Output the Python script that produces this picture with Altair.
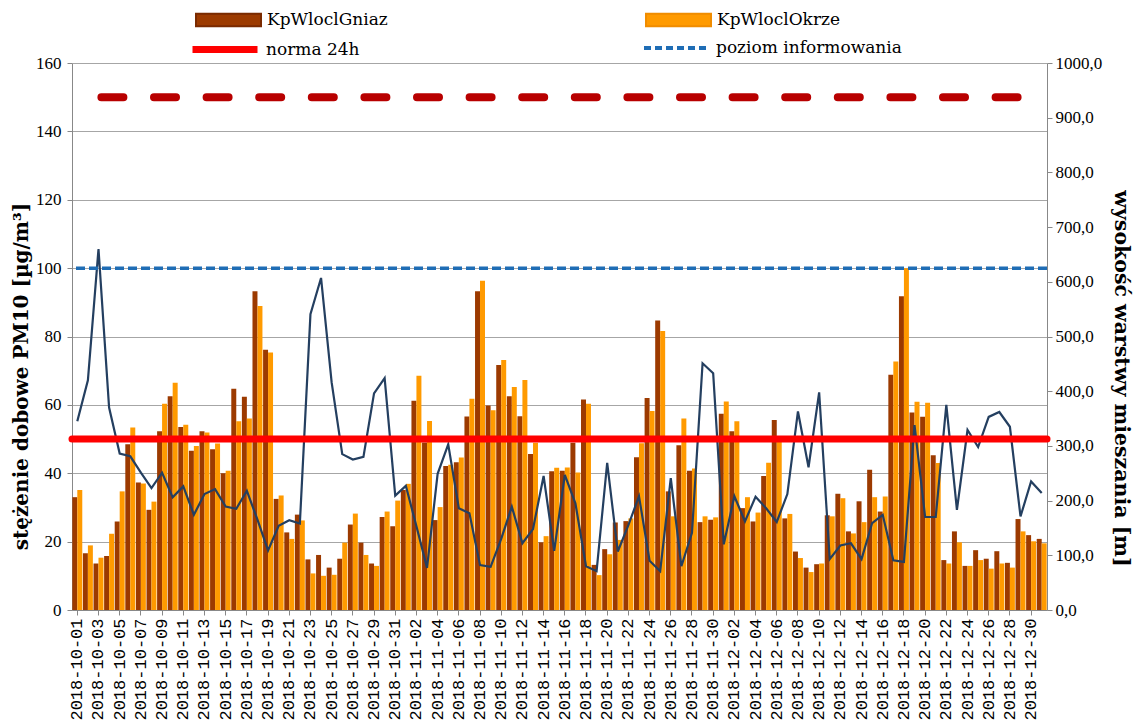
import altair as alt
import pandas as pd

# ---------------- data ----------------
dates = pd.date_range("2018-10-01", "2018-12-31").strftime("%Y-%m-%d").tolist()

series_names = ["KpWloclGniaz", "KpWloclOkrze"]

gniaz = [33.0, 16.6, 13.6, 15.8, 25.9, 48.5, 37.3, 29.3, 52.3, 62.5,
         53.5, 46.6, 52.3, 47.0, 40.0, 64.7, 62.4, 93.2, 76.1, 32.5,
         22.7, 27.9, 14.8, 16.1, 12.4, 15.0, 25.0, 19.7, 13.6, 27.2,
         24.5, 35.1, 61.2, 49.0, 26.3, 42.1, 43.2, 56.6, 93.2, 59.8,
         71.7, 62.5, 56.7, 45.6, 19.8, 40.6, 40.7, 48.9, 61.6, 13.2,
         17.8, 25.6, 26.0, 44.7, 62.0, 84.7, 34.7, 48.2, 40.7, 25.7,
         26.4, 57.4, 52.3, 29.8, 25.9, 39.2, 55.6, 26.8, 17.1, 12.4,
         13.4, 27.7, 34.0, 23.0, 31.8, 41.0, 28.8, 68.8, 91.8, 57.8,
         56.5, 45.3, 14.6, 23.0, 12.9, 17.5, 15.0, 17.2, 13.8, 26.6,
         21.9, 20.8]

okrze = [35.1, 18.9, 15.3, 22.3, 34.7, 53.4, 37.0, 31.7, 60.3, 66.5,
         54.2, 48.0, 51.9, 48.7, 40.7, 55.2, 56.0, 88.9, 75.3, 33.5,
         20.8, 26.2, 10.7, 10.0, 10.3, 19.7, 28.2, 16.1, 12.9, 28.8,
         32.0, 36.9, 68.5, 55.3, 30.1, 42.5, 44.6, 61.8, 96.3, 58.4,
         73.1, 65.2, 67.3, 48.9, 21.6, 41.6, 41.7, 40.2, 60.3, 10.2,
         16.3, 20.5, 26.8, 48.8, 58.2, 81.6, 27.4, 56.0, 41.4, 27.4,
         27.1, 61.0, 55.2, 33.0, 28.5, 43.1, 49.2, 28.1, 15.2, 11.1,
         13.6, 27.4, 32.7, 22.4, 25.7, 33.0, 33.2, 72.7, 100.0, 60.9,
         60.6, 43.0, 13.6, 19.8, 12.9, 14.6, 12.1, 13.6, 12.4, 23.0,
         20.1, 19.5]

mixing_height = [345, 420, 660, 370, 286, 281, 251, 223, 251, 206,
                 226, 174, 212, 221, 189, 185, 218, 165, 109, 154,
                 164, 158, 541, 607, 416, 285, 275, 280, 396, 424,
                 209, 227, 153, 77, 249, 303, 186, 177, 82, 79,
                 130, 189, 122, 148, 245, 108, 247, 195, 80, 71,
                 269, 107, 155, 208, 90, 71, 241, 80, 141, 451,
                 433, 120, 208, 162, 207, 186, 161, 212, 363, 261,
                 398, 93, 118, 122, 93, 159, 174, 91, 88, 338,
                 170, 170, 375, 183, 329, 298, 353, 362, 335, 171,
                 235, 214]

norma_label = "norma 24h"
norma_value = [50]
info_label = "poziom informowania"
info_value = [100]
alarm_value = [150]

left_ticks = [0, 20, 40, 60, 80, 100, 120, 140, 160]
right_ticks = [0, 100, 200, 300, 400, 500, 600, 700, 800, 900, 1000]
x_label_dates = dates[::2]

# ---------------- tables ----------------
bars_df = pd.DataFrame({
    "date": dates * 2,
    "series": [series_names[0]] * len(dates) + [series_names[1]] * len(dates),
    "value": gniaz + okrze,
})
line_df = pd.DataFrame({"date": dates, "h": mixing_height})
norma_df = pd.DataFrame({"v": norma_value, "lbl": [norma_label]})
info_df = pd.DataFrame({"v": info_value, "lbl": [info_label]})
alarm_df = pd.DataFrame({"v": alarm_value})

# ---------------- styles ----------------
BROWN = "#9C3A00"
ORANGE = "#FF9A00"
SERIF = "DejaVu Serif"
TICKF = "Liberation Serif"

x_scale = alt.Scale(paddingInner=0.06, paddingOuter=0.03)
x_axis = alt.Axis(values=x_label_dates, labelAngle=-90, labelFont="Liberation Mono",
                  labelFontSize=17, labelColor="#000", labelPadding=3,
                  tickColor="#888", tickSize=5, domainColor="#888", grid=False,
                  title=None, labelOverlap=False, labelBound=False, labelFlush=False)
x_enc = alt.X("date:O", scale=x_scale, axis=x_axis)

yl_scale = alt.Scale(domain=[0, 160], nice=False, zero=True)
yl_axis = alt.Axis(values=left_ticks, title="stężenie dobowe PM10 [µg/m³]",
                   titleFont=SERIF, titleFontSize=20, titleFontWeight="bold",
                   titleColor="#000", titleX=-51, titleY=313, titleAlign="center",
                   titleBaseline="middle", titleAngle=270,
                   labelFont=TICKF, labelFontSize=17, labelColor="#000", labelPadding=6,
                   grid=True, gridColor="#a6a6a6", gridWidth=1,
                   domainColor="#888", tickColor="#888", tickSize=5)

yr_axis = alt.Axis(orient="right", values=right_ticks,
                   labelExpr="replace(format(datum.value, '.1f'), '.', ',')",
                   title="wysokość warstwy mieszania [m]",
                   titleFont=SERIF, titleFontSize=20.5, titleFontWeight="bold",
                   titleColor="#000", titleX=73, titleY=315, titleAlign="center",
                   titleBaseline="middle", titleAngle=90,
                   labelFont=TICKF, labelFontSize=17, labelColor="#000", labelPadding=3,
                   grid=False, domainColor="#888", tickColor="#888", tickSize=5)

leg_common = dict(orient="none", title=None, labelFont=SERIF, labelFontSize=17,
                  labelColor="#000", padding=0, symbolSize=4225, labelOffset=5,
                  labelLimit=400)
bar_sym = "M-1,-0.19L1,-0.19L1,0.19L-1,0.19Z"

xoff = alt.XOffset("series:N", scale=alt.Scale(domain=series_names, paddingInner=0, paddingOuter=0))


def bar_layer(name, colour, edge, lx, ly):
    return alt.Chart(bars_df).transform_filter(
        alt.datum.series == name
    ).mark_bar().encode(
        x=x_enc,
        xOffset=xoff,
        y=alt.Y("value:Q", scale=yl_scale, axis=yl_axis),
        color=alt.Color("series:N", scale=alt.Scale(domain=[name], range=[colour]),
                        legend=alt.Legend(symbolType=bar_sym, legendX=lx, legendY=ly,
                                          symbolStrokeWidth=2, symbolStrokeColor=edge,
                                          **leg_common)),
    )


bars = alt.layer(
    bar_layer(series_names[0], BROWN, "#7A2A00", 123, -76.5),
    bar_layer(series_names[1], ORANGE, "#F08C00", 573, -76.5),
).resolve_scale(color="independent")

line = alt.Chart(line_df).mark_line(color="#243F60", strokeWidth=2.2).encode(
    x=x_enc,
    y=alt.Y("h:Q", scale=alt.Scale(domain=[0, 1000], nice=False), axis=yr_axis),
)

# dash pattern symmetric about the plot centre: 18 dashes across the width
alarm_dash = [22, 30.6] * 17 + [22, 58.8]
rule_alarm = alt.Chart(alarm_df).mark_rule(
    color="#B80000", strokeWidth=8, strokeDash=alarm_dash, strokeDashOffset=945.6,
    strokeCap="round"
).encode(y=alt.Y("v:Q", scale=yl_scale, axis=None))

rule_info = alt.Chart(info_df).mark_rule(strokeWidth=3.5, strokeDash=[9, 4]).encode(
    y=alt.Y("v:Q", scale=yl_scale, axis=None),
    color=alt.Color("lbl:N", scale=alt.Scale(domain=[info_label], range=["#1F6DB5"]),
                    legend=alt.Legend(symbolType="stroke", symbolStrokeWidth=4,
                                      symbolDash=[7, 4], legendX=570, legendY=-49.5,
                                      **leg_common)),
)

rule_norma = alt.Chart(norma_df).mark_rule(strokeWidth=7, strokeCap="round").encode(
    y=alt.Y("v:Q", scale=yl_scale, axis=None),
    color=alt.Color("lbl:N", scale=alt.Scale(domain=[norma_label], range=["#FF0000"]),
                    legend=alt.Legend(symbolType="stroke", symbolStrokeWidth=7,
                                      legendX=117, legendY=-49.5, **leg_common)),
)

rules = alt.layer(rule_alarm, rule_info, rule_norma).resolve_scale(color="independent")

chart = alt.layer(bars, line, rules).resolve_scale(
    y="independent", color="independent"
).properties(
    width=975, height=547,
    autosize=alt.AutoSizeParams(type="none"),
    padding={"left": 64, "top": 55, "right": 87, "bottom": 114},
    background="white",
).configure_view(stroke=None)

chart.save("out.html", embed_options={"renderer": "svg", "actions": False})
